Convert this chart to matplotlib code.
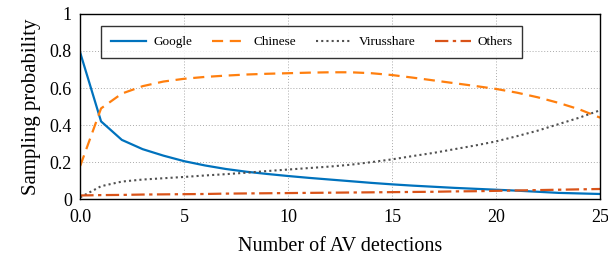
import matplotlib.pyplot as plt
import numpy as np

plt.rcParams['font.family'] = ['Liberation Serif', 'DejaVu Serif']

detections = list(range(26))
google = [0.79, 0.42, 0.32, 0.27, 0.235, 0.205, 0.182, 0.163, 0.148, 0.136, 0.125,
          0.115, 0.106, 0.097, 0.088, 0.08, 0.073, 0.067, 0.061, 0.056, 0.051,
          0.046, 0.04, 0.034, 0.031, 0.028]
chinese = [0.18, 0.49, 0.57, 0.61, 0.635, 0.65, 0.66, 0.667, 0.673, 0.677, 0.68,
           0.683, 0.685, 0.685, 0.68, 0.67, 0.656, 0.641, 0.626, 0.611, 0.595,
           0.575, 0.55, 0.52, 0.485, 0.44]
virusshare = [0.01, 0.07, 0.095, 0.106, 0.113, 0.12, 0.128, 0.135, 0.143, 0.152, 0.16,
              0.168, 0.176, 0.186, 0.2, 0.215, 0.233, 0.25, 0.27, 0.29, 0.312,
              0.34, 0.37, 0.405, 0.44, 0.48]
others = [0.02, 0.022, 0.023, 0.025, 0.026, 0.027, 0.028, 0.03, 0.031, 0.032, 0.033,
          0.034, 0.035, 0.036, 0.037, 0.038, 0.039, 0.04, 0.042, 0.043, 0.045,
          0.047, 0.049, 0.051, 0.053, 0.055]

xticks = [0, 5, 10, 15, 20, 25]
xticklabels = ["0.0", "5", "10", "15", "20", "25"]
yticks = [0, 0.2, 0.4, 0.6, 0.8, 1]
yticklabels = ["0", "0.2", "0.4", "0.6", "0.8", "1"]

fig = plt.figure(figsize=(6.08, 2.58), dpi=100)
ax = fig.add_axes([0.132, 0.228, 0.855, 0.718])

ax.plot(detections, google, color="#0072BD", lw=1.6, ls="-", label="Google")
ax.plot(detections, chinese, color="#FF7F0E", lw=1.6, ls=(0, (5, 3)), label="Chinese")
ax.plot(detections, virusshare, color="#505050", lw=1.5, ls=(0, (1, 1.5)), label="Virusshare")
ax.plot(detections, others, color="#D95319", lw=1.6, ls=(0, (6, 2, 1.5, 2)), label="Others")

ax.set_xlim(0, 25)
ax.set_ylim(0, 1)
ax.set_xticks(xticks)
ax.set_xticklabels(xticklabels)
ax.set_yticks(yticks)
ax.set_yticklabels(yticklabels)
ax.tick_params(labelsize=13, direction="in", length=0)
ax.tick_params(axis="x", pad=7)
ax.tick_params(axis="y", pad=6)
ax.grid(True, ls=(0, (1, 2)), color="#aaaaaa", lw=0.7)
for s in ax.spines.values():
    s.set_linewidth(1.0)

ax.set_xlabel("Number of AV detections", fontsize=14.5, labelpad=8)
ax.set_ylabel("Sampling probability", fontsize=15, labelpad=6)

leg = ax.legend(ncol=4, loc="upper left", bbox_to_anchor=(0.027, 0.97), fontsize=9.5,
                frameon=True, fancybox=False, edgecolor="black", handlelength=2.7,
                handletextpad=0.5, columnspacing=1.5, borderpad=0.75)
leg.get_frame().set_linewidth(1.0)

fig.savefig("out.png", dpi=100)
